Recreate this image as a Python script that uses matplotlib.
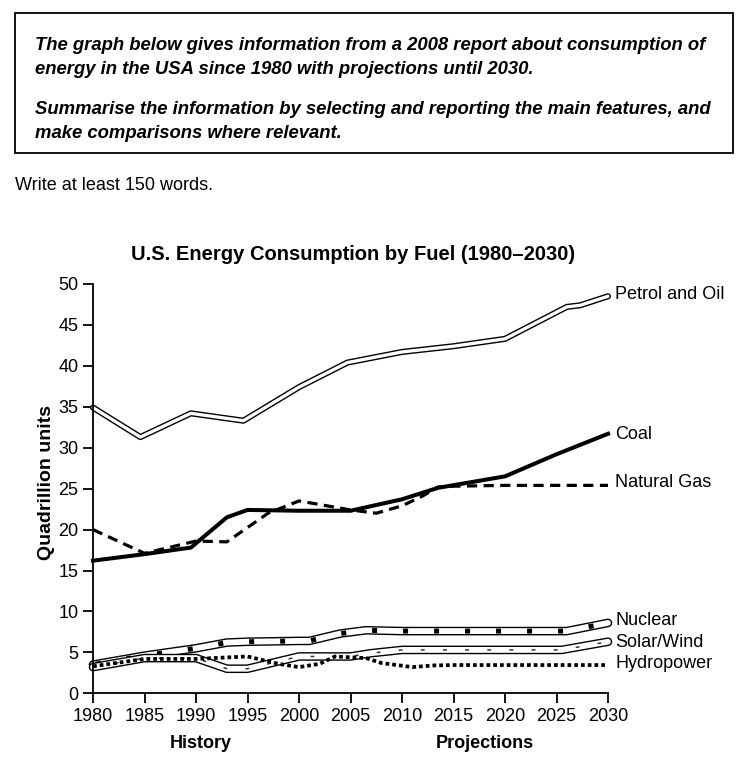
import matplotlib
matplotlib.use("Agg")
import matplotlib.pyplot as plt
from matplotlib.patches import Rectangle

plt.rcParams['font.family'] = ['Liberation Sans', 'DejaVu Sans']

# ---- data ----
petrol_x = [1980, 1984.6, 1989.5, 1994.6, 2000, 2004.7, 2010, 2015, 2020, 2026, 2027.3, 2030]
petrol_y = [34.9, 31.3, 34.2, 33.3, 37.4, 40.4, 41.7, 42.4, 43.3, 47.2, 47.4, 48.5]

coal_x = [1980, 1985, 1989.5, 1993, 1995, 2000, 2005, 2010, 2013.5, 2020, 2025, 2030]
coal_y = [16.2, 17.0, 17.8, 21.5, 22.4, 22.3, 22.3, 23.7, 25.1, 26.5, 29.2, 31.7]

gas_x = [1980, 1985, 1990, 1993, 1997, 2000, 2005, 2007.5, 2010, 2012, 2013.5, 2015, 2020, 2030]
gas_y = [20.0, 17.1, 18.6, 18.5, 22.0, 23.5, 22.4, 22.0, 22.9, 24.1, 25.2, 25.3, 25.4, 25.4]

nuclear_x = [1980, 1985, 1990, 1993, 1995, 2000, 2001, 2004, 2006.5, 2010, 2015, 2020, 2026, 2028, 2030]
nuclear_y = [3.5, 4.6, 5.5, 6.2, 6.3, 6.4, 6.4, 7.3, 7.7, 7.6, 7.6, 7.6, 7.6, 8.1, 8.6]

solar_x = [1980, 1985, 1990, 1993, 1995, 1997, 2000, 2005, 2007, 2010, 2015, 2020, 2025.5, 2030]
solar_y = [3.2, 4.3, 4.3, 3.0, 3.0, 3.6, 4.5, 4.5, 4.9, 5.3, 5.3, 5.3, 5.3, 6.3]

hydro_x = [1980, 1985, 1990, 1995, 1998, 2000, 2002, 2003.5, 2006.5, 2008, 2011, 2013, 2015, 2020, 2025, 2030]
hydro_y = [3.3, 4.2, 4.2, 4.5, 3.6, 3.2, 3.6, 4.5, 4.3, 3.7, 3.2, 3.4, 3.45, 3.45, 3.45, 3.45]

series_labels = ["Petrol and Oil", "Coal", "Natural Gas", "Nuclear", "Solar/Wind", "Hydropower"]
label_y = [48.7, 31.6, 25.8, 8.9, 6.2, 3.6]
x_ticks = [1980, 1985, 1990, 1995, 2000, 2005, 2010, 2015, 2020, 2025, 2030]
y_ticks = [0, 5, 10, 15, 20, 25, 30, 35, 40, 45, 50]

W, H = 746, 776
fig = plt.figure(figsize=(W / 100, H / 100), dpi=100)
fig.patch.set_facecolor('white')

# ---- task box ----
box = Rectangle((15 / W, 1 - 153 / H), 718 / W, 140 / H, transform=fig.transFigure,
                fill=False, edgecolor='black', linewidth=1.3)
fig.patches.append(box)
task_font = dict(family=['Liberation Sans Narrow', 'Liberation Sans', 'DejaVu Sans'],
                 fontsize=13.3, fontweight='bold', fontstyle='italic')
fig.text(35 / W, 1 - 45 / H, "The graph below gives information from a 2008 report about consumption of",
         va='center', ha='left', **task_font)
fig.text(35 / W, 1 - 70 / H, "energy in the USA since 1980 with projections until 2030.",
         va='center', ha='left', **task_font)
fig.text(35 / W, 1 - 110 / H, "Summarise the information by selecting and reporting the main features, and",
         va='center', ha='left', **task_font)
fig.text(35 / W, 1 - 134 / H, "make comparisons where relevant.",
         va='center', ha='left', **task_font)
fig.text(15 / W, 1 - 186 / H, "Write at least 150 words.", va='center', ha='left',
         family=['Liberation Sans Narrow', 'Liberation Sans'], fontsize=13)

# ---- chart ----
ax = fig.add_axes([93 / W, 1 - 693.3 / H, 515 / W, 409.3 / H])
ax.set_xlim(1980, 2030)
ax.set_ylim(0, 50)
for s in ['top', 'right']:
    ax.spines[s].set_visible(False)
ax.spines['left'].set_linewidth(1.3)
ax.spines['bottom'].set_linewidth(1.3)
ax.set_xticks(x_ticks)
ax.set_yticks(y_ticks)
ax.tick_params(direction='out', length=7, width=1.3, labelsize=13)

# Petrol and Oil: double line
ax.plot(petrol_x, petrol_y, color='black', lw=4.4, solid_capstyle='round', solid_joinstyle='round', clip_on=False)
ax.plot(petrol_x, petrol_y, color='white', lw=2.4, solid_capstyle='round', solid_joinstyle='round', clip_on=False)

# Coal: thick solid
ax.plot(coal_x, coal_y, color='black', lw=2.9, solid_joinstyle='round', clip_on=False)

# Natural gas: dashed
ax.plot(gas_x, gas_y, color='black', lw=2.3, linestyle=(0, (3.2, 2.0)), clip_on=False)

# Nuclear: double line with black squares
ax.plot(nuclear_x, nuclear_y, color='black', lw=6.2, solid_capstyle='round', solid_joinstyle='round', clip_on=False)
ax.plot(nuclear_x, nuclear_y, color='white', lw=4.2, solid_capstyle='round', solid_joinstyle='round', clip_on=False)
ax.plot(nuclear_x, nuclear_y, color='black', lw=3.6, linestyle=(18, (1.0, 5.2)), clip_on=False)

# Solar/Wind: double line with hatching
ax.plot(solar_x, solar_y, color='black', lw=6.2, solid_capstyle='round', solid_joinstyle='round', clip_on=False)
ax.plot(solar_x, solar_y, color='white', lw=4.2, solid_capstyle='round', solid_joinstyle='round', clip_on=False)
ax.plot(solar_x, solar_y, color='#333333', lw=1.1, linestyle=(0, (2.5, 12)), clip_on=False)

# Hydropower: dotted
ax.plot(hydro_x, hydro_y, color='black', lw=2.7, linestyle=(0, (1.0, 0.8)), clip_on=False)

for name, yv in zip(series_labels, label_y):
    ax.text(2030.7, yv, name, va='center', ha='left', fontsize=13)

fig.text(353 / W, 1 - 254 / H, "U.S. Energy Consumption by Fuel (1980\u20132030)",
         ha='center', va='center', fontsize=14.5, fontweight='bold')
fig.text(47 / W, 1 - 483 / H, "Quadrillion units", rotation=90, ha='center', va='center',
         fontsize=14, fontweight='bold')
fig.text(201 / W, 1 - 743 / H, "History", ha='center', va='center', fontsize=13, fontweight='bold')
fig.text(485 / W, 1 - 743 / H, "Projections", ha='center', va='center', fontsize=13, fontweight='bold')

fig.savefig("out.png", dpi=100, facecolor='white')
